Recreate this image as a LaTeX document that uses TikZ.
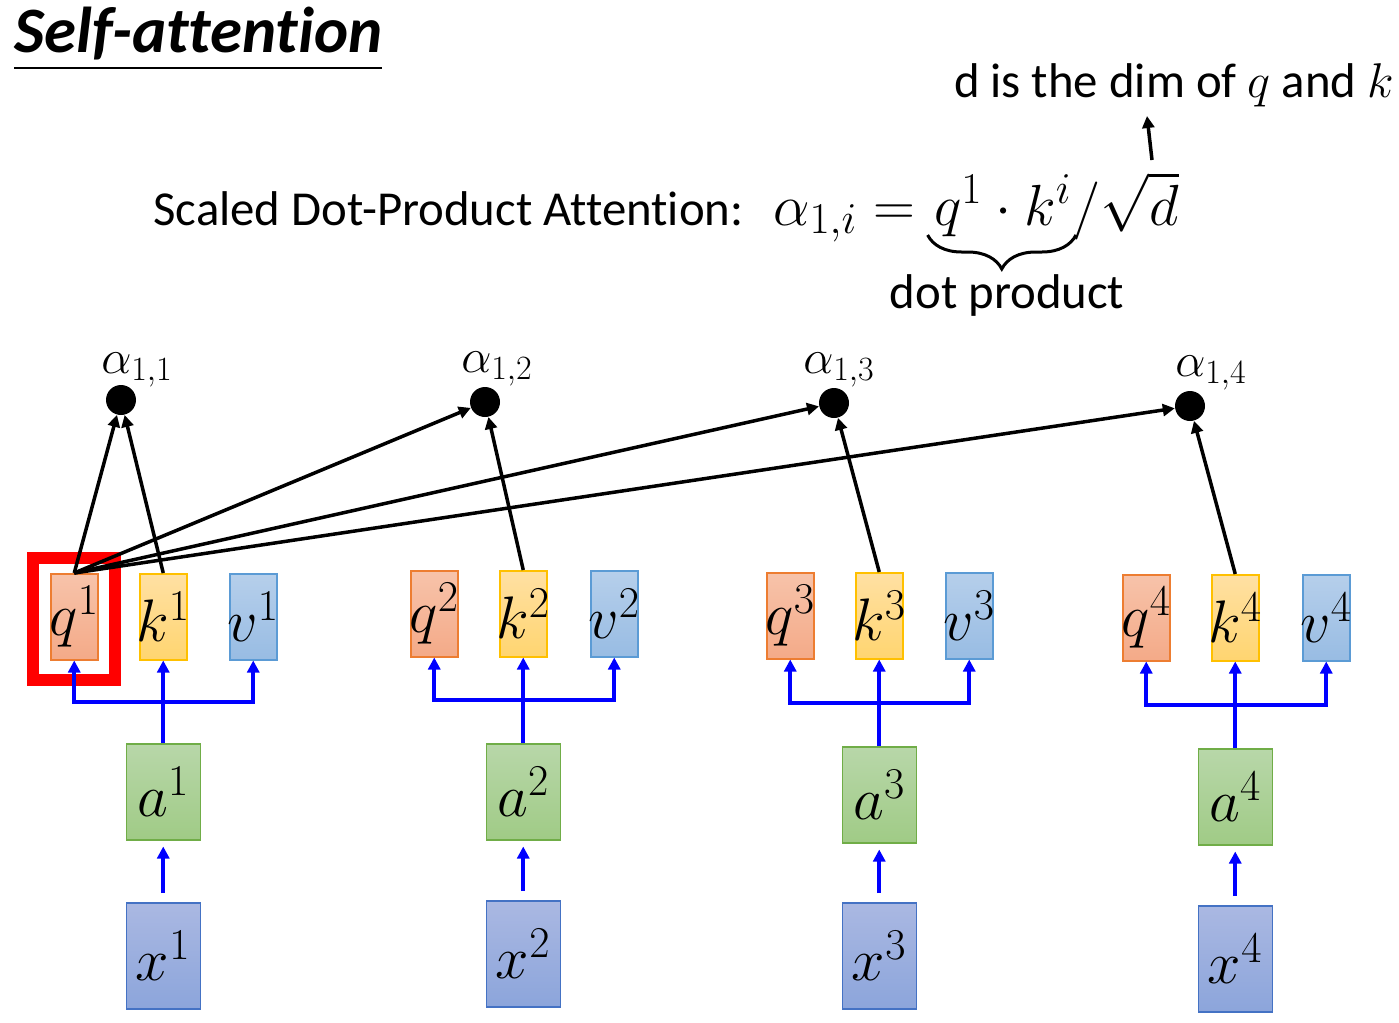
\RequirePackage{fix-cm}
\documentclass[tikz,border=0pt]{standalone}
\usepackage[no-math]{fontspec}
\setmainfont{Carlito}[Ligatures=CommonOff]
\usetikzlibrary{arrows.meta,calc,decorations.pathreplacing}

% larger scripts for the big math sizes
\DeclareMathSizes{29}{29}{22}{17}
\DeclareMathSizes{30}{30}{22}{17}
\DeclareMathSizes{24}{24}{17}{13}

\definecolor{qedge}{HTML}{ED7D31}
\definecolor{qtop}{HTML}{F7C3AA}
\definecolor{qbot}{HTML}{F4AA88}
\definecolor{kedge}{HTML}{FFC000}
\definecolor{ktop}{HTML}{FFE0A3}
\definecolor{kbot}{HTML}{FFD570}
\definecolor{vedge}{HTML}{5B9BD5}
\definecolor{vtop}{HTML}{B6CFEB}
\definecolor{vbot}{HTML}{98BCE3}
\definecolor{aedge}{HTML}{70AD47}
\definecolor{atop}{HTML}{B8D7A9}
\definecolor{abot}{HTML}{A0CB86}
\definecolor{xedge}{HTML}{4472C4}
\definecolor{xtop}{HTML}{AAB8E2}
\definecolor{xbot}{HTML}{8CA5DB}

% box content that never widens its box
\newcommand\boxlabel[1]{\makebox[0pt]{#1}}

\tikzset{
  feedtip/.tip={Triangle[length=6pt,width=6pt]},
  vec/.style={draw, line width=0.75pt, inner sep=0pt, minimum width=23.5pt, minimum height=43pt,
    font=\fontsize{30}{34}\selectfont},
  qbox/.style={vec, draw=qedge, top color=qtop, bottom color=qbot},
  kbox/.style={vec, draw=kedge, top color=ktop, bottom color=kbot},
  vbox/.style={vec, draw=vedge, top color=vtop, bottom color=vbot},
  abox/.style={vec, draw=aedge, top color=atop, bottom color=abot, minimum width=37pt, minimum height=48pt},
  xbox/.style={vec, draw=xedge, top color=xtop, bottom color=xbot, minimum width=37pt, minimum height=53pt},
  score/.style={circle, fill=black, inner sep=0pt, minimum size=15pt},
  scorelbl/.style={anchor=base west, inner sep=0pt, font=\fontsize{24}{28}\selectfont},
  blk/.style={line width=1.75pt, -{Triangle[length=6pt,width=6pt]}},
  feed/.style={draw=blue, line width=2.2pt},
  bigtext/.style={inner sep=0pt, font=\fontsize{24.4}{29}\selectfont},
  bigmath/.style={inner sep=0pt, font=\fontsize{29}{34}\selectfont},
}

\begin{document}
\begin{tikzpicture}[x=0.5pt, y=-0.5pt]
\useasboundingbox (0,0) rectangle (1399,1023);

% title
\node[anchor=base west, inner sep=0pt, font=\fontsize{32.4}{39}\selectfont\bfseries\itshape] (title) at (14,52) {Self-attention};
\draw[line width=1pt] (14,68) -- (382,68);

% formula
\node[bigtext, anchor=base west] (flabel) at (153,225) {Scaled Dot-Product Attention:};
\node[bigmath, anchor=base west] (f1) at (773,225) {$\alpha_{1,i} =$};
\node[bigmath, anchor=base west] (f2) at ([xshift=9pt]f1.base east) {$q^1\cdot k^i$};
\node[bigmath, anchor=base west] (f3) at (f2.base east) {$/\sqrt{d}$};
\draw[line width=1.5pt, decorate, decoration={brace, amplitude=17pt}]
  ([xshift=2pt,yshift=-5pt]f2.base east) -- ([xshift=-3pt,yshift=-5pt]f2.base west);
\node[bigtext, anchor=base] (dotlbl) at (1007,308) {dot product};
\node[bigtext, anchor=base] (dimlbl) at (1174,97) {d is the dim of $q$ and $k$};
\coordinate (dtail) at (1152,160);
\coordinate (dtip) at (1147,116);
\draw[blk] (dtail) -- (dtip);

% highlight on the query of the first token
\node[draw=red, line width=6pt, minimum width=41pt, minimum height=61pt, inner sep=0pt] (hl) at (74,619) {};

% token columns: #1 index, #2 q left, #3 k left, #4 v left, #5 top of q/k/v,
% #6 top of a, #7 top of x
\newcommand\tokencol[7]{%
  \node[qbox, anchor=north west] (q#1) at (#2,#5) {\boxlabel{$q^{#1}$}};
  \node[kbox, anchor=north west] (k#1) at (#3,#5) {\boxlabel{$k^{#1}$}};
  \node[vbox, anchor=north west] (v#1) at (#4,#5) {\boxlabel{$v^{#1}$}};
  \node[abox, anchor=north] (a#1) at (k#1.south |- 0,#6) {\boxlabel{$a^{#1}$}};
  \node[xbox, anchor=north] (x#1) at (a#1.south |- 0,#7) {\boxlabel{$x^{#1}$}};
  \coordinate (m#1) at ($(k#1.south)!0.5!(a#1.north)$);
  \draw[feed, -feedtip] (a#1.north) -- (k#1.south);
  \draw[feed, feedtip-feedtip] (q#1.south) |- (m#1) -| (v#1.south);
  \draw[feed, -feedtip, shorten <=4.5pt, shorten >=3pt] (x#1.north) -- (a#1.south);
}
\tokencol{1}{50}{139}{229}{573}{743}{902}
\tokencol{2}{410}{499}{590}{570}{743}{900}
\tokencol{3}{766}{855}{945}{572}{746}{902}
\tokencol{4}{1122}{1211}{1302}{574}{748}{905}

% attention scores
\node[score] (s1) at (121,400) {};
\node[score] (s2) at (485,402) {};
\node[score] (s3) at (834,403) {};
\node[score] (s4) at (1190,406) {};
\node[scorelbl] (l1) at (101,373) {$\alpha_{1,1}$};
\node[scorelbl] (l2) at (461,372) {$\alpha_{1,2}$};
\node[scorelbl] (l3) at (803,373) {$\alpha_{1,3}$};
\node[scorelbl] (l4) at (1175,376) {$\alpha_{1,4}$};

\foreach \j in {1,...,4} {
  \draw[blk] (q1.north) -- (s\j);
  \draw[blk] (k\j.north) -- (s\j);
}
\end{tikzpicture}
\end{document}
